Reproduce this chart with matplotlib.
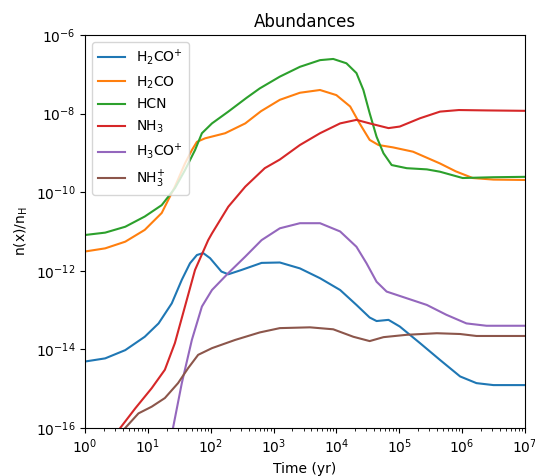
import numpy as np
import matplotlib
matplotlib.use("Agg")
import matplotlib.pyplot as plt

# log10(time / yr) and log10(abundance) for each species
t_h2cop = [0.0, 0.32, 0.64, 0.95, 1.17, 1.38, 1.54, 1.67, 1.78, 1.88, 1.99, 2.17, 2.28, 2.49, 2.81,
           3.1, 3.42, 3.74, 4.06, 4.32, 4.53, 4.64, 4.83, 5.01, 5.33, 5.65, 5.97, 6.23, 6.5, 7.0]
y_h2cop = [-14.31, -14.23, -14.02, -13.68, -13.34, -12.83, -12.23, -11.81, -11.6, -11.55, -11.68, -12.02, -12.09, -11.98, -11.8,
           -11.79, -11.94, -12.19, -12.49, -12.87, -13.19, -13.28, -13.25, -13.42, -13.84, -14.27, -14.69, -14.86, -14.91, -14.91]

t_h2co = [0.0, 0.32, 0.64, 0.95, 1.22, 1.43, 1.59, 1.7, 1.78, 1.91, 2.23, 2.55, 2.8, 3.1, 3.42, 3.74,
          4.0, 4.22, 4.37, 4.53, 4.67, 4.9, 5.22, 5.65, 5.9, 6.17, 6.5, 7.0]
y_h2co = [-11.51, -11.43, -11.26, -10.96, -10.53, -9.86, -9.27, -8.93, -8.72, -8.63, -8.5, -8.25, -7.94, -7.65, -7.47, -7.4,
          -7.53, -7.82, -8.25, -8.67, -8.8, -8.86, -8.97, -9.27, -9.47, -9.64, -9.68, -9.69]

t_hcn = [0.0, 0.32, 0.64, 0.95, 1.22, 1.43, 1.59, 1.75, 1.86, 2.02, 2.28, 2.57, 2.78, 3.1, 3.42, 3.74, 3.95,
         4.16, 4.32, 4.43, 4.53, 4.64, 4.75, 4.88, 5.12, 5.44, 5.65, 6.01, 6.5, 7.0]
y_hcn = [-11.09, -11.03, -10.88, -10.62, -10.33, -9.9, -9.44, -8.93, -8.5, -8.25, -7.95, -7.6, -7.36, -7.06, -6.81, -6.64, -6.61,
         -6.72, -6.97, -7.4, -7.99, -8.59, -9.01, -9.31, -9.39, -9.42, -9.48, -9.64, -9.62, -9.61]

t_nh3 = [0.45, 0.56, 0.8, 1.06, 1.27, 1.43, 1.59, 1.75, 1.96, 2.02, 2.28, 2.55, 2.86, 3.1, 3.42, 3.74,
         4.06, 4.32, 4.53, 4.83, 5.01, 5.33, 5.65, 5.95, 6.4, 7.0]
y_nh3 = [-16.3, -16.0, -15.5, -14.99, -14.52, -13.84, -12.91, -11.98, -11.22, -11.05, -10.37, -9.86, -9.39, -9.17, -8.8, -8.5,
         -8.25, -8.16, -8.25, -8.37, -8.33, -8.12, -7.95, -7.91, -7.92, -7.93]

t_h3cop = [1.35, 1.4, 1.54, 1.7, 1.86, 2.02, 2.28, 2.55, 2.81, 3.1, 3.42, 3.74, 4.06, 4.32, 4.48, 4.64,
           4.8, 5.12, 5.44, 5.75, 6.07, 6.39, 7.0]
y_h3cop = [-16.4, -16.0, -14.86, -13.76, -12.91, -12.49, -12.06, -11.64, -11.22, -10.92, -10.79, -10.79, -11.0, -11.39, -11.81, -12.28,
           -12.53, -12.7, -12.87, -13.12, -13.34, -13.4, -13.4]

t_nh3p = [0.55, 0.64, 0.85, 1.06, 1.27, 1.48, 1.64, 1.8, 2.02, 2.39, 2.78, 3.1, 3.58, 3.95, 4.27, 4.53,
          4.75, 5.12, 5.6, 5.97, 6.23, 7.0]
y_nh3p = [-16.2, -16.0, -15.63, -15.46, -15.24, -14.86, -14.48, -14.14, -13.97, -13.76, -13.57, -13.46, -13.44, -13.49, -13.68, -13.79,
          -13.69, -13.63, -13.59, -13.61, -13.66, -13.66]

series = [
    (t_h2cop, y_h2cop, r"H$_2$CO$^{+}$"),
    (t_h2co, y_h2co, r"H$_2$CO"),
    (t_hcn, y_hcn, "HCN"),
    (t_nh3, y_nh3, r"NH$_3$"),
    (t_h3cop, y_h3cop, r"H$_3$CO$^{+}$"),
    (t_nh3p, y_nh3p, r"NH$_3^{+}$"),
]

fig = plt.figure(figsize=(5.35, 4.76), dpi=100)
ax = fig.add_axes([0.159, 0.101, 0.822, 0.8255])

for t, y, label in series:
    ax.plot(10 ** np.array(t), 10 ** np.array(y), label=label, lw=1.5)

ax.set_xscale("log")
ax.set_yscale("log")
ax.set_xlim(1, 1e7)
ax.set_ylim(1e-16, 1e-6)
ax.set_xlabel("Time (yr)")
ax.set_ylabel(r"n(x)/n$_{\rm H}$")
ax.set_title("Abundances")
ax.legend(loc="upper left")

fig.savefig("out.png", dpi=100)
